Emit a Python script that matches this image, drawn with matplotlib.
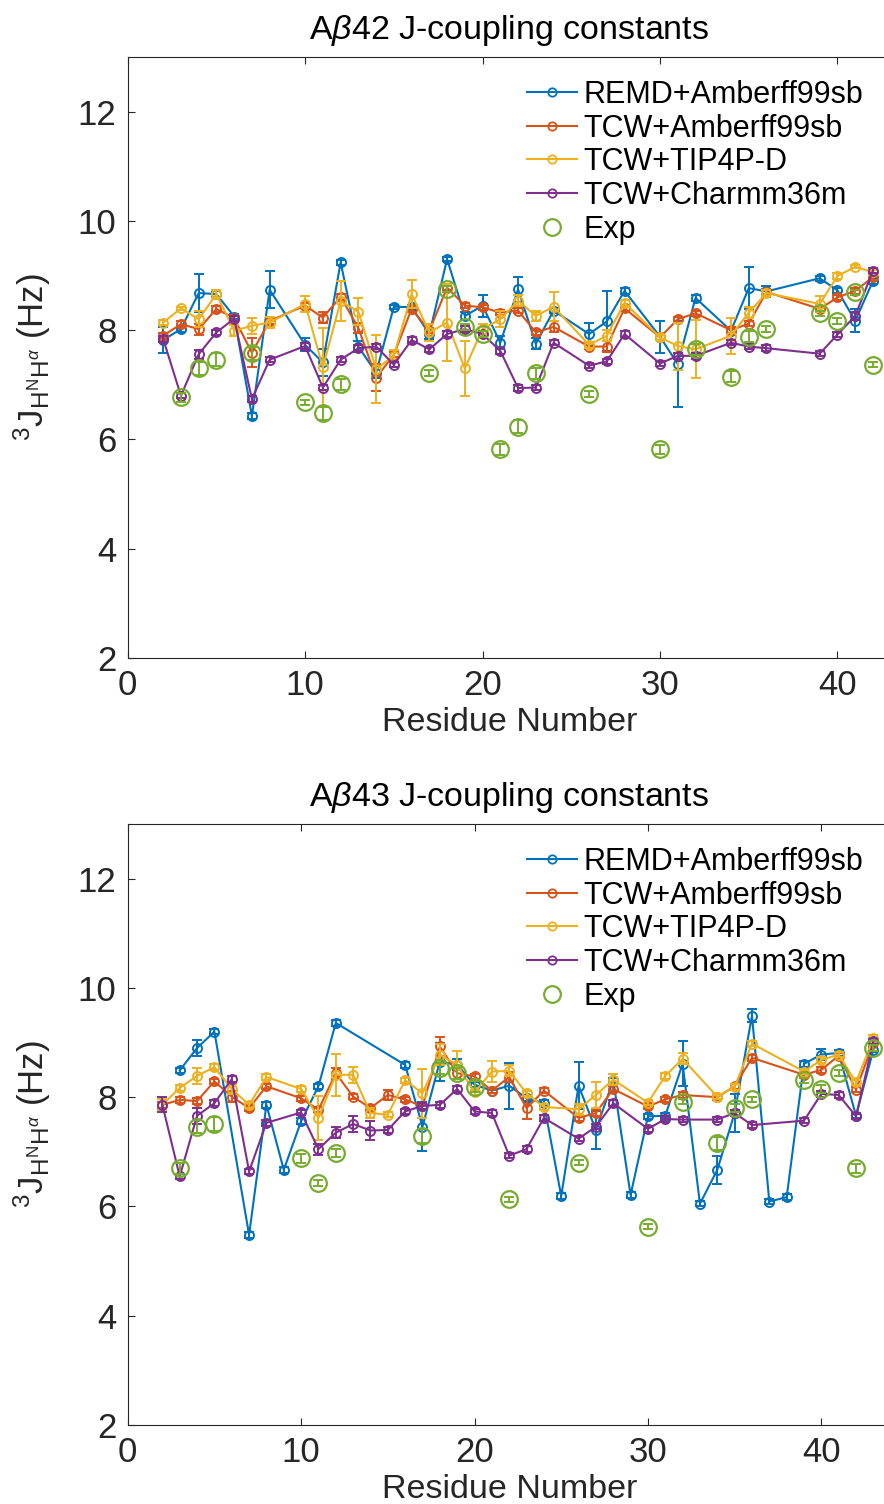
import matplotlib
matplotlib.use("Agg")
import matplotlib.pyplot as plt
from matplotlib.lines import Line2D

plt.rcParams["font.family"] = ["Liberation Sans", "DejaVu Sans"]
plt.rcParams["mathtext.fontset"] = "custom"
plt.rcParams["mathtext.rm"] = "Liberation Sans"
plt.rcParams["mathtext.it"] = "Liberation Sans:italic"
plt.rcParams["mathtext.bf"] = "Liberation Sans:bold"

# MATLAB default colour order
colors = ["#0072BD", "#D95319", "#EDB120", "#7E2F8E"]
exp_color = "#77AC30"
labels = ["REMD+Amberff99sb", "TCW+Amberff99sb", "TCW+TIP4P-D", "TCW+Charmm36m"]

# ---------------- Abeta42 ----------------
res42 = [2, 3, 4, 5, 6, 7, 8, 10, 11, 12, 13, 14, 15, 16, 17, 18, 19, 20, 21, 22,
         23, 24, 26, 27, 28, 30, 31, 32, 34, 35, 36, 39, 40, 41, 42]

remd42 = [7.82, 8.02, 8.68, 8.66, 8.25, 6.43, 8.74, 7.73, 7.41, 9.24, 7.70, 7.22,
          8.43, 8.42, 7.93, 9.30, 8.26, 8.45, 7.77, 8.75, 7.75, 8.36, 7.93, 8.16,
          8.72, 7.88, 7.38, 8.59, 7.99, 8.77, 8.71, 8.95, 8.73, 8.17, 8.90]
remd42_err = [0.24, 0.05, 0.34, 0.05, 0.05, 0.05, 0.34, 0.12, 0.25, 0.04, 0.10, 0.10,
              0.04, 0.05, 0.10, 0.04, 0.07, 0.20, 0.12, 0.23, 0.10, 0.05, 0.20, 0.55,
              0.05, 0.29, 0.79, 0.05, 0.05, 0.39, 0.10, 0.05, 0.05, 0.21, 0.05]

tcwamb42 = [7.90, 8.11, 8.02, 8.39, 8.22, 7.59, 8.17, 8.45, 8.23, 8.61, 8.04, 7.13,
            7.55, 8.39, 7.99, 8.78, 8.45, 8.42, 8.32, 8.36, 7.96, 8.06, 7.70, 7.70,
            8.40, 7.87, 8.20, 8.31, 8.00, 8.12, 8.70, 8.39, 8.60, 8.72, 8.97]
tcwamb42_err = [0.05, 0.05, 0.10, 0.05, 0.05, 0.27, 0.05, 0.05, 0.10, 0.05, 0.10, 0.25,
                0.05, 0.05, 0.05, 0.05, 0.05, 0.05, 0.05, 0.05, 0.05, 0.10, 0.05, 0.10,
                0.05, 0.05, 0.05, 0.05, 0.05, 0.05, 0.05, 0.05, 0.05, 0.05, 0.05]

tip4pd42 = [8.14, 8.40, 8.20, 8.66, 7.99, 8.08, 8.14, 8.48, 7.32, 8.53, 8.34, 7.29,
            7.53, 8.66, 7.96, 8.14, 7.30, 8.02, 8.20, 8.54, 8.26, 8.43, 7.73, 7.90,
            8.50, 7.87, 7.71, 7.65, 7.90, 8.32, 8.68, 8.48, 8.99, 9.16, 9.06]
tip4pd42_err = [0.05, 0.03, 0.15, 0.08, 0.10, 0.15, 0.10, 0.15, 0.72, 0.37, 0.25, 0.63,
                0.10, 0.25, 0.15, 0.70, 0.50, 0.10, 0.15, 0.10, 0.10, 0.26, 0.05, 0.10,
                0.05, 0.05, 0.43, 0.53, 0.33, 0.10, 0.05, 0.15, 0.05, 0.03, 0.05]

charmm42 = [7.84, 6.80, 7.56, 7.96, 8.21, 6.74, 7.46, 7.71, 6.95, 7.46, 7.67, 7.70,
            7.37, 7.82, 7.65, 7.93, 8.02, 7.93, 7.62, 6.94, 6.95, 7.77, 7.35, 7.43,
            7.93, 7.39, 7.53, 7.53, 7.77, 7.70, 7.67, 7.57, 7.92, 8.26, 9.09]
charmm42_err = [0.05, 0.05, 0.08, 0.05, 0.05, 0.05, 0.05, 0.05, 0.05, 0.05, 0.05, 0.05,
                0.05, 0.05, 0.05, 0.05, 0.05, 0.05, 0.05, 0.05, 0.05, 0.05, 0.05, 0.05,
                0.05, 0.05, 0.05, 0.05, 0.05, 0.05, 0.05, 0.05, 0.05, 0.08, 0.05]

exp42_res = [3, 4, 5, 7, 10, 11, 12, 17, 18, 19, 20, 21, 22, 23, 26, 30, 32, 34, 35,
             36, 39, 40, 41, 42]
exp42 = [6.77, 7.30, 7.46, 7.58, 6.68, 6.48, 7.01, 7.22, 8.75, 8.06, 7.93, 5.82, 6.23,
         7.21, 6.83, 5.82, 7.65, 7.15, 7.88, 8.02, 8.31, 8.17, 8.69, 7.37]
exp42_err = [0.08, 0.12, 0.12, 0.12, 0.05, 0.12, 0.10, 0.05, 0.05, 0.05, 0.05, 0.10,
             0.12, 0.10, 0.05, 0.08, 0.10, 0.10, 0.10, 0.05, 0.05, 0.05, 0.05, 0.05]

# ---------------- Abeta43 ----------------
res43 = [2, 3, 4, 5, 6, 7, 8, 10, 11, 12, 13, 14, 15, 16, 17, 18, 19, 20, 21, 22,
         23, 24, 26, 27, 28, 30, 31, 32, 34, 35, 36, 39, 40, 41, 42, 43]
remd43_res = [3, 4, 5, 7, 8, 9, 10, 11, 12, 16, 17, 18, 19, 20, 21, 22, 23, 24, 25,
              26, 27, 28, 29, 30, 31, 32, 33, 34, 35, 36, 37, 38, 39, 40, 41, 42, 43]

remd43 = [8.49, 8.90, 9.20, 5.48, 7.86, 6.67, 7.56, 8.20, 9.36, 8.59, 7.46, 8.65,
          8.59, 8.23, 8.12, 8.21, 7.98, 7.89, 6.19, 8.21, 7.40, 8.31, 6.21, 7.65,
          7.66, 8.61, 6.05, 6.67, 7.71, 9.49, 6.09, 6.17, 8.61, 8.78, 8.81, 7.66, 8.87]
remd43_err = [0.05, 0.15, 0.05, 0.05, 0.05, 0.05, 0.05, 0.05, 0.05, 0.05, 0.45, 0.35,
              0.10, 0.05, 0.05, 0.42, 0.05, 0.05, 0.05, 0.43, 0.34, 0.05, 0.05, 0.05,
              0.05, 0.41, 0.05, 0.26, 0.34, 0.12, 0.05, 0.05, 0.05, 0.10, 0.05, 0.05, 0.05]

tcwamb43 = [7.86, 7.95, 7.93, 8.29, 8.01, 7.80, 8.20, 7.98, 7.77, 8.44, 8.01, 7.80,
            8.04, 7.96, 7.83, 8.93, 8.44, 8.38, 8.12, 8.37, 7.80, 8.12, 7.62, 7.71,
            8.15, 7.83, 7.96, 8.04, 8.00, 8.20, 8.72, 8.41, 8.50, 8.76, 8.14, 8.99]
tcwamb43_err = [0.05, 0.05, 0.05, 0.05, 0.10, 0.05, 0.05, 0.05, 0.05, 0.10, 0.05, 0.05,
                0.10, 0.05, 0.05, 0.18, 0.10, 0.05, 0.05, 0.10, 0.20, 0.05, 0.05, 0.05,
                0.05, 0.05, 0.05, 0.05, 0.05, 0.05, 0.05, 0.05, 0.05, 0.05, 0.05, 0.05]

tip4pd43 = [7.86, 8.17, 8.39, 8.55, 8.15, 7.86, 8.37, 8.15, 7.62, 8.41, 8.41, 7.71,
            7.68, 8.31, 8.07, 8.78, 8.59, 8.09, 8.47, 8.48, 8.07, 7.82, 7.78, 8.04,
            8.32, 7.90, 8.39, 8.70, 8.01, 8.19, 8.98, 8.47, 8.68, 8.78, 8.27, 9.08]
tip4pd43_err = [0.10, 0.05, 0.15, 0.05, 0.10, 0.05, 0.05, 0.05, 0.40, 0.38, 0.15, 0.10,
                0.05, 0.05, 0.45, 0.20, 0.25, 0.05, 0.20, 0.10, 0.05, 0.05, 0.10, 0.23,
                0.10, 0.05, 0.05, 0.10, 0.05, 0.05, 0.05, 0.05, 0.05, 0.05, 0.05, 0.05]

charmm43 = [7.86, 6.55, 7.66, 7.89, 8.33, 6.64, 7.53, 7.72, 7.05, 7.35, 7.51, 7.39,
            7.40, 7.74, 7.84, 7.86, 8.15, 7.74, 7.71, 6.93, 7.05, 7.62, 7.24, 7.46,
            7.89, 7.42, 7.60, 7.59, 7.59, 7.71, 7.49, 7.57, 8.06, 8.04, 7.65, 9.02]
charmm43_err = [0.14, 0.05, 0.15, 0.05, 0.05, 0.05, 0.05, 0.05, 0.10, 0.10, 0.15, 0.18,
                0.05, 0.05, 0.05, 0.05, 0.05, 0.05, 0.05, 0.05, 0.05, 0.05, 0.05, 0.05,
                0.05, 0.05, 0.05, 0.05, 0.05, 0.05, 0.05, 0.05, 0.05, 0.05, 0.05, 0.05]

exp43_res = [3, 4, 5, 10, 11, 12, 17, 18, 19, 20, 22, 26, 30, 32, 34, 35, 36, 39, 40,
             41, 42, 43]
exp43 = [6.70, 7.46, 7.51, 6.88, 6.43, 6.98, 7.29, 8.53, 8.44, 8.19, 6.13, 6.80, 5.63,
         7.92, 7.16, 7.80, 7.96, 8.31, 8.15, 8.44, 6.70, 8.90]
exp43_err = [0.10, 0.12, 0.12, 0.08, 0.05, 0.08, 0.12, 0.10, 0.10, 0.10, 0.05, 0.05,
             0.05, 0.05, 0.12, 0.08, 0.05, 0.05, 0.08, 0.05, 0.08, 0.05]

dark = "#262626"


def draw_panel(ax, series, exp_res, exp_val, exp_err, title, xmax):
    z = 2
    for (x, y, err), c in zip(series, colors):
        ax.errorbar(x, y, yerr=err, fmt="none", ecolor=c, elinewidth=1.4,
                    capsize=3.6, capthick=1.4, zorder=z)
        ax.plot(x, y, "-o", color=c, lw=1.5, ms=6.5, mfc="none", mew=1.4, zorder=z + 0.5)
        z += 1
    ax.errorbar(exp_res, exp_val, yerr=exp_err, fmt="none", ecolor=exp_color,
                elinewidth=1.4, capsize=3.6, capthick=1.4, zorder=z)
    ax.plot(exp_res, exp_val, "o", color=exp_color, ms=12, mfc="none", mew=1.6,
            zorder=z + 0.5)

    ax.set_xlim(0, xmax)
    ax.set_ylim(2, 13)
    ax.set_xticks([0, 10, 20, 30, 40])
    ax.set_yticks([2, 4, 6, 8, 10, 12])
    ax.tick_params(direction="in", top=True, right=True, length=5, width=0.8,
                   labelsize=25, colors=dark, pad=8)
    for s in ax.spines.values():
        s.set_color(dark)
        s.set_linewidth(0.8)

    ax.set_title(title, fontsize=24.5, pad=13)
    ax.set_xlabel("Residue Number", fontsize=24.5, color=dark)
    ax.xaxis.set_label_coords(0.5, -0.082)
    ax.set_ylabel(r"$^{3}\mathrm{J}_{\mathrm{H}^{\mathrm{N}}\mathrm{H}^{\alpha}}$ (Hz)",
                  fontsize=25, color=dark)
    ax.yaxis.set_label_coords(-0.098, 0.5)

    handles = [Line2D([], [], color=c, lw=1.5, marker="o", ms=6, mfc="none", mew=1.3)
               for c in colors]
    handles.append(Line2D([], [], ls="none", marker="o", ms=12, mfc="none",
                          mec=exp_color, mew=1.6))
    ax.legend(handles, labels + ["Exp"], loc="upper left", frameon=False,
              bbox_to_anchor=(0.523, 0.962), borderaxespad=0, borderpad=0,
              fontsize=22, handlelength=1.63, handletextpad=0.23, labelspacing=0.12)


fig = plt.figure(figsize=(8.84, 15.04), dpi=100)
ax1 = fig.add_axes([127.7 / 884, 846 / 1504, 763 / 884, 601 / 1504])
ax2 = fig.add_axes([127.7 / 884, 79 / 1504, 763 / 884, 601 / 1504])

draw_panel(ax1,
           [(res42, remd42, remd42_err), (res42, tcwamb42, tcwamb42_err),
            (res42, tip4pd42, tip4pd42_err), (res42, charmm42, charmm42_err)],
           exp42_res, exp42, exp42_err, r"A$\beta$42 J-coupling constants", 43)
draw_panel(ax2,
           [(remd43_res, remd43, remd43_err), (res43, tcwamb43, tcwamb43_err),
            (res43, tip4pd43, tip4pd43_err), (res43, charmm43, charmm43_err)],
           exp43_res, exp43, exp43_err, r"A$\beta$43 J-coupling constants", 44)

fig.savefig("out.png", dpi=100)
